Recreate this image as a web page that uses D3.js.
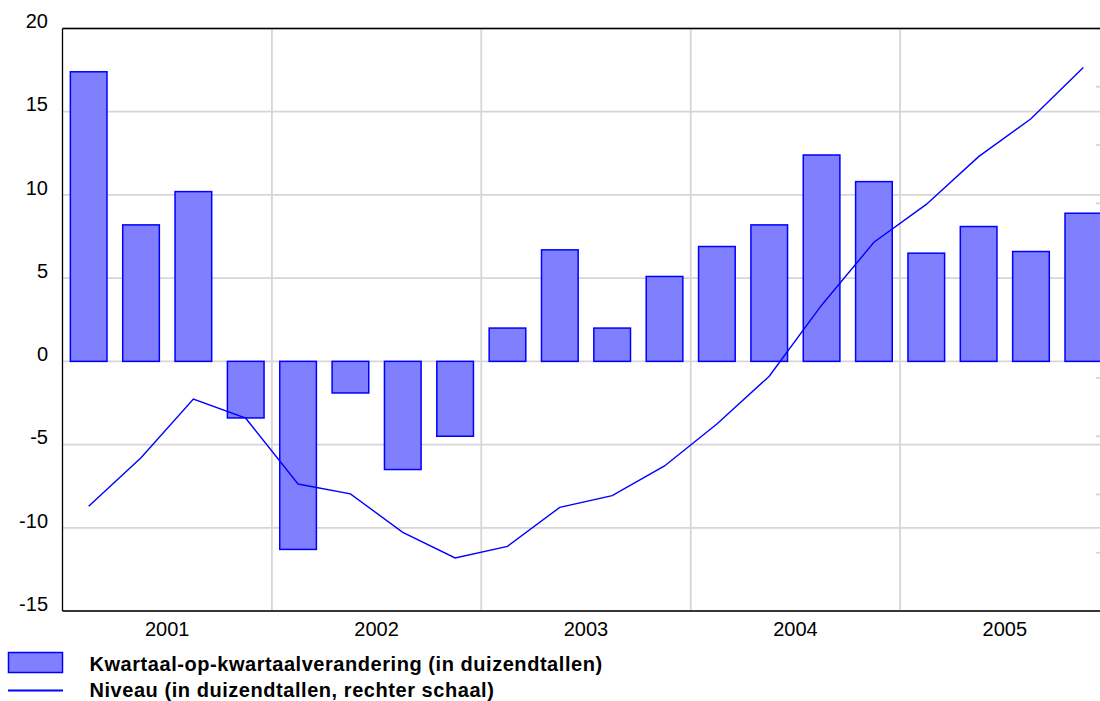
<!DOCTYPE html>
<html>
<head>
<meta charset="utf-8">
<script src="https://cdn.jsdelivr.net/npm/d3@7"></script>
<style>
body { margin: 0; background: #fff; }
text { font-family: "Liberation Sans", Arial, sans-serif; }
</style>
</head>
<body>
<script>
// data
var years = ["2001", "2002", "2003", "2004", "2005"];
var quarters = ["2001K1","2001K2","2001K3","2001K4","2002K1","2002K2","2002K3","2002K4",
                "2003K1","2003K2","2003K3","2003K4","2004K1","2004K2","2004K3","2004K4",
                "2005K1","2005K2","2005K3","2005K4"];
var verandering = [17.4, 8.2, 10.2, -3.4, -11.3, -1.9, -6.5, -4.5,
                   2.0, 6.7, 2.0, 5.1, 6.9, 8.2, 12.4, 10.8,
                   6.5, 8.1, 6.6, 8.9];
var niveau = [18.0, 26.3, 36.4, 33.1, 21.8, 20.1, 13.5, 9.1,
              11.1, 17.8, 19.8, 24.9, 32.1, 40.3, 52.5, 63.3,
              69.8, 78.0, 84.5, 93.3];
var leftTicks = [-15, -10, -5, 0, 5, 10, 15, 20];
var rightTicks = [0, 10, 20, 30, 40, 50, 60, 70, 80, 90, 100];
var legendLabels = ["Kwartaal-op-kwartaalverandering (in duizendtallen)",
                    "Niveau (in duizendtallen, rechter schaal)"];

var W = 1100, H = 701;
var pLeft = 62.5, pRight = 1109.5, pTop = 28.5, pBottom = 611;

var svg = d3.select("body").append("svg").attr("width", W).attr("height", H);

var x = d3.scaleBand().domain(quarters).range([pLeft, pRight]).paddingInner(0.3).paddingOuter(0.15);
var y = d3.scaleLinear().domain([-15, 20]).range([pBottom, pTop]);
var y2 = d3.scaleLinear().domain([0, 100]).range([pBottom, pTop]); // rechter schaal, zonder labels
var step = x.step();

// gridlines horizontaal
svg.append("g").selectAll("line").data(leftTicks).enter().append("line")
    .attr("x1", pLeft).attr("x2", W).attr("y1", function(d){ return y(d); }).attr("y2", function(d){ return y(d); })
    .attr("stroke", "#d6d6d6").attr("stroke-width", 1.8);

// gridlines verticaal (jaargrenzen)
svg.append("g").selectAll("line").data(years.slice(1)).enter().append("line")
    .attr("x1", function(d, i){ return pLeft + (i + 1) * 4 * step; })
    .attr("x2", function(d, i){ return pLeft + (i + 1) * 4 * step; })
    .attr("y1", pTop).attr("y2", pBottom)
    .attr("stroke", "#d6d6d6").attr("stroke-width", 1.8);

// rechter schaal: alleen streepjes
svg.append("g").selectAll("line").data(rightTicks).enter().append("line")
    .attr("x1", 1096).attr("x2", pRight).attr("y1", function(d){ return y2(d); }).attr("y2", function(d){ return y2(d); })
    .attr("stroke", "#d6d6d6").attr("stroke-width", 1.8);

// staven
svg.append("g").selectAll("rect").data(verandering).enter().append("rect")
    .attr("x", function(d, i){ return x(quarters[i]); })
    .attr("y", function(d){ return y(Math.max(0, d)); })
    .attr("width", x.bandwidth())
    .attr("height", function(d){ return Math.abs(y(d) - y(0)); })
    .attr("fill", "#8080ff").attr("stroke", "#0000ff").attr("stroke-width", 1.5);

// lijn niveau
var lijn = d3.line()
    .x(function(d, i){ return x(quarters[i]) + x.bandwidth() / 2; })
    .y(function(d){ return y2(d); });
svg.append("path").datum(niveau).attr("d", lijn)
    .attr("fill", "none").attr("stroke", "#0000ff").attr("stroke-width", 1.4);

// kader
svg.append("line").attr("x1", pLeft).attr("x2", W).attr("y1", pTop).attr("y2", pTop).attr("stroke", "#000").attr("stroke-width", 1.3);
svg.append("line").attr("x1", pLeft).attr("x2", W).attr("y1", pBottom).attr("y2", pBottom).attr("stroke", "#000").attr("stroke-width", 1.3);
svg.append("line").attr("x1", pLeft).attr("x2", pLeft).attr("y1", pTop).attr("y2", pBottom).attr("stroke", "#000").attr("stroke-width", 1.3);

// y labels links
svg.append("g").selectAll("text").data(leftTicks).enter().append("text")
    .attr("x", 48).attr("y", function(d){ return y(d) - 5.5; })
    .attr("dominant-baseline", "middle").attr("text-anchor", "end")
    .attr("font-size", 20).attr("fill", "#000")
    .text(function(d){ return d; });

// jaar labels
svg.append("g").selectAll("text").data(years).enter().append("text")
    .attr("x", function(d, i){ return pLeft + (i * 4 + 2) * step; })
    .attr("y", 630.5).attr("dominant-baseline", "middle").attr("text-anchor", "middle")
    .attr("font-size", 20).attr("fill", "#000")
    .text(function(d){ return d; });

// legenda
svg.append("rect").attr("x", 8.5).attr("y", 652.5).attr("width", 54).attr("height", 20)
    .attr("fill", "#8080ff").attr("stroke", "#0000ff").attr("stroke-width", 1.5);
svg.append("line").attr("x1", 8).attr("x2", 63).attr("y1", 690.5).attr("y2", 690.5)
    .attr("stroke", "#0000ff").attr("stroke-width", 2);
svg.append("g").selectAll("text").data(legendLabels).enter().append("text")
    .attr("x", 89.5).attr("y", function(d, i){ return 670.5 + i * 26; })
    .attr("font-size", 20).attr("font-weight", "bold").attr("letter-spacing", 0.55).attr("fill", "#000")
    .text(function(d){ return d; });
</script>
</body>
</html>
